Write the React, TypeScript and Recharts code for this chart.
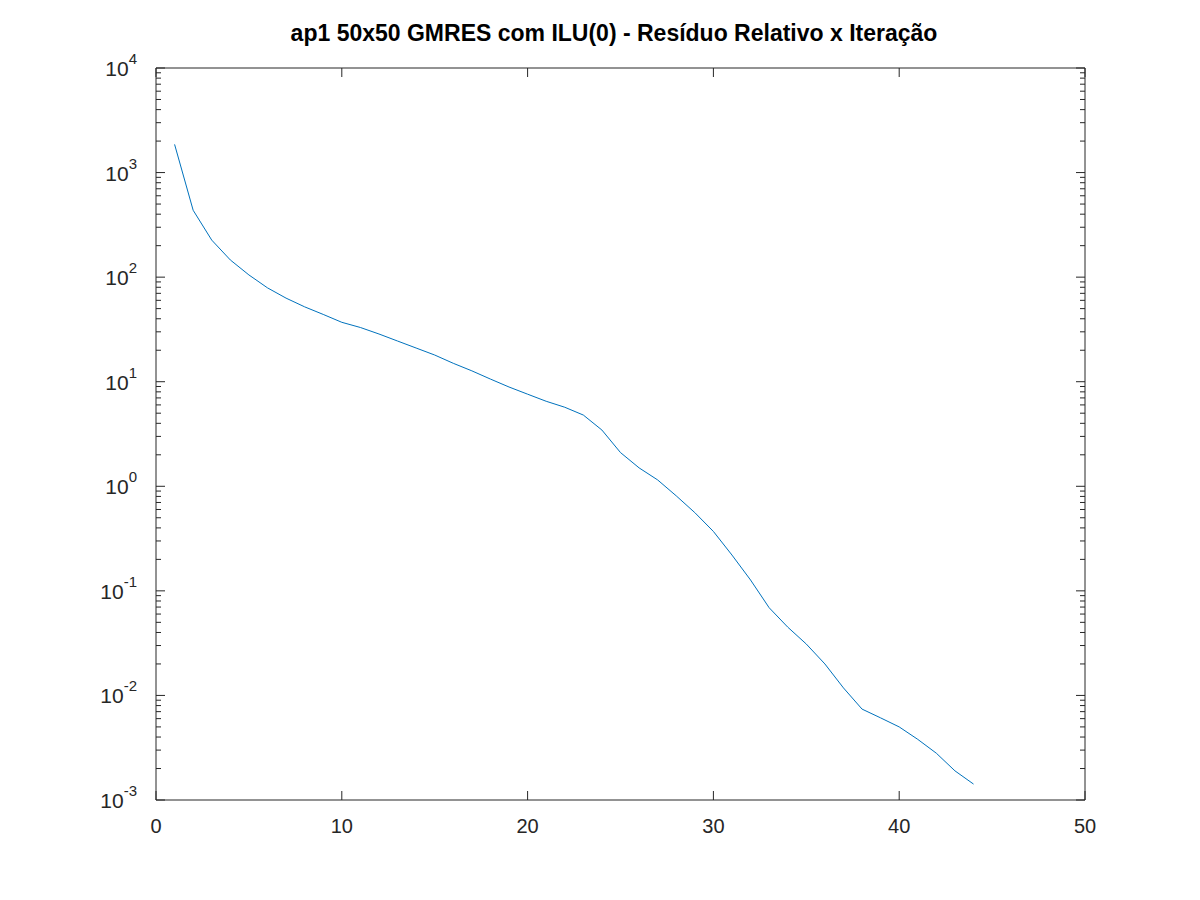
import React from "react";
import { LineChart, Line, XAxis, YAxis } from "recharts";

const iterations = Array.from({ length: 44 }, (_, i) => i + 1);
const residuals = [
  1860, 436, 226, 146, 105, 79, 63, 52, 44, 37, 33, 28.6, 24.5, 21, 18, 15,
  12.7, 10.6, 8.9, 7.6, 6.5, 5.7, 4.8, 3.45, 2.1, 1.5, 1.15, 0.81, 0.56, 0.37,
  0.22, 0.127, 0.069, 0.045, 0.031, 0.02, 0.0118, 0.0074, 0.0061, 0.005,
  0.0038, 0.0028, 0.0019, 0.00142,
];
const decades = [-3, -2, -1, 0, 1, 2, 3, 4];
const xTicks = [0, 10, 20, 30, 40, 50];

const data = iterations.map((it, i) => ({ it, r: residuals[i] }));

const yTicks: number[] = [];
decades.forEach((d) => {
  yTicks.push(Math.pow(10, d));
  if (d < 4) for (let m = 2; m <= 9; m++) yTicks.push(m * Math.pow(10, d));
});

const isDecade = (v: number) => {
  const l = Math.log10(v);
  return Math.abs(l - Math.round(l)) < 1e-9;
};

const FONT = "'Liberation Sans', Arial, sans-serif";
const TXT = "#262626";
const AX = "#262626";
const PLOT_L = 156;
const PLOT_R = 1085;
const PLOT_T = 68;
const PLOT_B = 800;

const LeftTick = (p: any) => {
  const v = p.payload.value;
  const major = isDecade(v);
  const e = Math.round(Math.log10(v));
  return (
    <g>
      <line x1={PLOT_L} x2={PLOT_L + (major ? 9 : 5)} y1={p.y} y2={p.y} stroke={AX} />
      {major && (
        <text x={PLOT_L - 19} y={p.y + 8} textAnchor="end" fill={TXT} fontSize={21} fontFamily={FONT}>
          10
          <tspan dy={-12} fontSize={15}>{e}</tspan>
        </text>
      )}
    </g>
  );
};

const RightTick = (p: any) => {
  const major = isDecade(p.payload.value);
  return <line x1={PLOT_R} x2={PLOT_R - (major ? 9 : 5)} y1={p.y} y2={p.y} stroke={AX} />;
};

const BottomTick = (p: any) => (
  <g>
    <line x1={p.x} x2={p.x} y1={PLOT_B} y2={PLOT_B - 9} stroke={AX} />
    <text x={p.x} y={PLOT_B + 33} textAnchor="middle" fill={TXT} fontSize={20} fontFamily={FONT}>
      {p.payload.value}
    </text>
  </g>
);

const TopTick = (p: any) => (
  <line x1={p.x} x2={p.x} y1={PLOT_T} y2={PLOT_T + 9} stroke={AX} />
);

export default function App() {
  return (
    <div style={{ position: "absolute", left: 0, top: 0, width: 1200, height: 900, background: "#fff" }}>
      <div
        style={{
          position: "absolute", top: 20, left: 0, width: 1228, textAlign: "center",
          fontFamily: FONT, fontWeight: "bold", fontSize: 23, color: "#000",
        }}
      >
        ap1 50x50 GMRES com ILU(0) - Resíduo Relativo x Iteração
      </div>
      <LineChart width={1200} height={900} data={data} margin={{ top: 67, right: 0, bottom: 0, left: 0 }}>
        <XAxis xAxisId="b" dataKey="it" type="number" domain={[0, 50]} ticks={xTicks} height={100}
          tickSize={0} tickMargin={0} tick={<BottomTick />} stroke={AX} interval={0} />
        <XAxis xAxisId="t" orientation="top" dataKey="it" type="number" domain={[0, 50]} ticks={xTicks}
          height={1} tickSize={0} tickMargin={0} tick={<TopTick />} stroke={AX} interval={0} />
        <YAxis yAxisId="l" scale="log" domain={[0.001, 10000]} ticks={yTicks} width={156} type="number"
          tickSize={0} tickMargin={0} tick={<LeftTick />} stroke={AX} interval={0} allowDataOverflow />
        <YAxis yAxisId="r" orientation="right" scale="log" domain={[0.001, 10000]} ticks={yTicks} width={115}
          type="number" tickSize={0} tickMargin={0} tick={<RightTick />} stroke={AX} interval={0} allowDataOverflow />
        <Line xAxisId="b" yAxisId="l" dataKey="r" stroke="#0072BD" strokeWidth={1} dot={false} isAnimationActive={false} />
      </LineChart>
    </div>
  );
}
